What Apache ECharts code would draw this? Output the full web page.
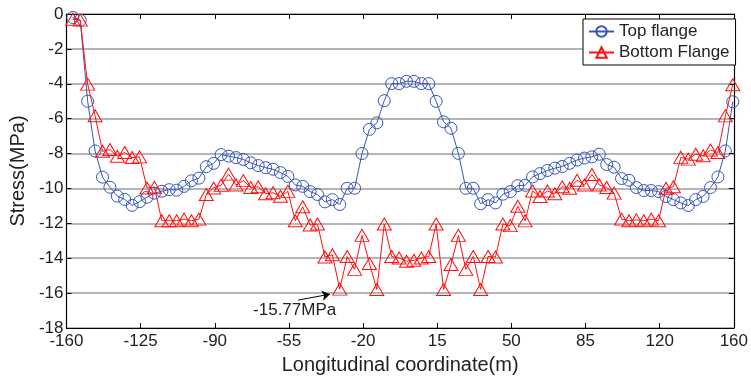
<!DOCTYPE html>
<html>
<head>
<meta charset="utf-8">
<script src="https://cdn.jsdelivr.net/npm/echarts@6/dist/echarts.min.js"></script>
<style>
html,body{margin:0;padding:0;background:#fff;}
#chart{width:751px;height:380px;}
</style>
</head>
<body>
<div id="chart"></div>
<script>
// Longitudinal coordinates (m) of the measurement points
const xCoords = [-157, -153.5, -150, -146.5, -143, -139.5, -136, -132.5, -129, -125.5,
  -122, -118.5, -115, -111.5, -108, -104.5, -101, -97.5, -94, -90.5,
  -87, -83.5, -80, -76.5, -73, -69.5, -66, -62.5, -59, -55.5,
  -52, -48.5, -45, -41.5, -38, -34.5, -31, -27.5, -24, -20.5,
  -17, -13.5, -10, -6.5, -3, 0.5, 4, 7.5, 11, 14.5,
  18, 21.5, 25, 28.5, 32, 35.5, 39, 42.5, 46, 49.5,
  53, 56.5, 60, 63.5, 67, 70.5, 74, 77.5, 81, 84.5,
  88, 91.5, 95, 98.5, 102, 105.5, 109, 112.5, 116, 119.5,
  123, 126.5, 130, 133.5, 137, 140.5, 144, 147.5, 151, 154.5];

// Stress (MPa) - top flange
const topFlange = [-0.2, -0.36, -5.0, -7.85, -9.35, -9.93, -10.44, -10.63, -10.97, -10.76,
  -10.5, -10.27, -10.16, -10.07, -10.1, -9.88, -9.56, -9.41, -8.75, -8.56,
  -8.06, -8.15, -8.23, -8.34, -8.53, -8.69, -8.81, -8.9, -9.09, -9.31,
  -9.8, -9.88, -10.18, -10.35, -10.77, -10.64, -10.92, -9.99, -9.99, -8.0,
  -6.61, -6.24, -4.97, -3.99, -3.99, -3.86, -3.86, -3.99, -3.99, -5.01,
  -6.18, -6.55, -7.99, -9.99, -9.99, -10.88, -10.64, -10.83, -10.33, -10.18,
  -9.84, -9.82, -9.34, -9.15, -8.97, -8.84, -8.74, -8.56, -8.37, -8.26,
  -8.19, -8.04, -8.63, -8.78, -9.43, -9.53, -9.95, -10.12, -10.12, -10.18,
  -10.46, -10.64, -10.83, -10.98, -10.64, -10.46, -9.95, -9.34, -7.85, -5.03];

// Stress (MPa) - bottom flange
const bottomFlange = [-0.3, -0.35, -4.02, -5.83, -7.87, -7.77, -8.15, -7.94, -8.23, -8.19,
  -9.97, -9.93, -11.85, -11.85, -11.85, -11.76, -11.85, -11.76, -10.35, -9.97,
  -9.82, -9.18, -9.8, -9.55, -9.95, -9.9, -10.3, -10.25, -10.45, -10.17,
  -11.85, -11.05, -12.1, -12.04, -13.93, -13.8, -15.77, -13.9, -14.64, -12.69,
  -14.3, -15.79, -12.04, -13.9, -13.99, -14.17, -14.12, -13.99, -13.9, -12.04,
  -15.79, -14.36, -12.69, -14.64, -13.9, -15.79, -13.9, -13.93, -12.04, -12.13,
  -11.02, -11.86, -10.15, -10.46, -10.15, -10.3, -9.9, -9.99, -9.53, -9.8,
  -9.2, -9.8, -9.95, -10.27, -11.76, -11.85, -11.8, -11.85, -11.76, -11.85,
  -9.99, -9.9, -8.22, -8.32, -8.04, -8.13, -7.8, -7.94, -5.84, -4.06];

const xTickLabels = ['-160', '-125', '-90', '-55', '-20', '15', '50', '85', '120', '160'];
const seriesNames = ['Top flange', 'Bottom Flange'];
const annotationText = '-15.77MPa';

const X_MIN = -160, X_STEP = 35, X_MAX = X_MIN + X_STEP * (xTickLabels.length - 1);
const FONT = '"Liberation Sans", Arial, sans-serif';
const BLUE = '#3656b8';
const RED = '#ff1010';

const zip = (xs, ys) => xs.map((x, i) => [x, ys[i]]);

const chart = echarts.init(document.getElementById('chart'), null, {renderer: 'canvas'});

const xAxisBase = {
  type: 'value', min: X_MIN, max: X_MAX, interval: X_STEP,
  axisLine: {show: true, onZero: false, lineStyle: {color: '#000', width: 1.2}},
  axisTick: {show: true, inside: true, length: 5, lineStyle: {color: '#000'}},
  splitLine: {show: false}
};
const yAxisBase = {
  type: 'value', min: -18, max: 0, interval: 2,
  axisLine: {show: true, onZero: false, lineStyle: {color: '#000', width: 1.2}},
  axisTick: {show: true, inside: true, length: 5, lineStyle: {color: '#000'}}
};

chart.setOption({
  animation: false,
  backgroundColor: '#fff',
  textStyle: {fontFamily: FONT},
  grid: {left: 62, right: 14, top: 14, bottom: 43, containLabel: false},
  legend: {
    data: seriesNames,
    orient: 'vertical',
    left: 583, top: 19,
    backgroundColor: '#fff',
    borderColor: '#000', borderWidth: 1,
    padding: [4, 6, 4, 5],
    itemGap: 4,
    itemWidth: 25, itemHeight: 13,
    textStyle: {fontSize: 17, color: '#222', fontFamily: FONT}
  },
  xAxis: [
    Object.assign({}, xAxisBase, {
      position: 'bottom',
      name: 'Longitudinal coordinate(m)', nameLocation: 'middle', nameGap: 27,
      nameTextStyle: {fontSize: 20, color: '#222', fontFamily: FONT},
      axisLabel: {
        fontSize: 17, color: '#222', margin: 5, fontFamily: FONT,
        formatter: v => xTickLabels[Math.round((v - X_MIN) / X_STEP)]
      }
    }),
    Object.assign({}, xAxisBase, {position: 'top', axisLabel: {show: false}})
  ],
  yAxis: [
    Object.assign({}, yAxisBase, {
      position: 'left',
      name: 'Stress(MPa)', nameLocation: 'middle', nameGap: 34,
      nameTextStyle: {fontSize: 20, color: '#222', fontFamily: FONT},
      axisLabel: {fontSize: 17, color: '#222', margin: 3, fontFamily: FONT},
      splitLine: {show: true, lineStyle: {color: '#9c9c9c', width: 1.5}}
    }),
    Object.assign({}, yAxisBase, {position: 'right', axisLabel: {show: false}, splitLine: {show: false}})
  ],
  series: [
    {
      name: seriesNames[0], type: 'line', xAxisIndex: 0, yAxisIndex: 0,
      data: zip(xCoords, topFlange),
      symbol: 'circle', symbolSize: 12, showAllSymbol: true,
      lineStyle: {color: BLUE, width: 1},
      itemStyle: {color: 'rgba(255,255,255,0)', borderColor: BLUE, borderWidth: 1},
      emphasis: {disabled: true}
    },
    {
      name: seriesNames[1], type: 'line', xAxisIndex: 0, yAxisIndex: 0,
      data: zip(xCoords, bottomFlange),
      symbol: 'triangle', symbolSize: [14, 12], showAllSymbol: true,
      lineStyle: {color: RED, width: 1},
      itemStyle: {color: 'rgba(255,255,255,0)', borderColor: RED, borderWidth: 1},
      emphasis: {disabled: true},
      markLine: {
        silent: true, animation: false,
        symbol: ['none', 'arrow'], symbolSize: 8,
        label: {show: false},
        lineStyle: {color: '#000', width: 1, type: 'solid'},
        data: [[{coord: [-50.6, -16.4]}, {coord: [-35.6, -16.06]}]]
      },
      markPoint: {
        silent: true, animation: false,
        symbol: 'rect', symbolSize: 1,
        itemStyle: {color: 'rgba(0,0,0,0)'},
        label: {show: true, position: 'inside', formatter: annotationText, fontSize: 17, color: '#222', fontFamily: FONT},
        data: [{coord: [-52.3, -16.96]}]
      }
    }
  ]
});
</script>
</body>
</html>
